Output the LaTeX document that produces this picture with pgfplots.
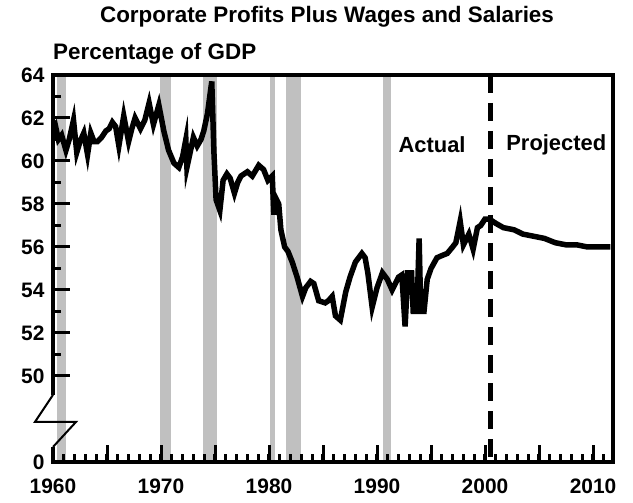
\documentclass[border=0pt]{standalone}
\usepackage{pgfplots}
\pgfplotsset{compat=1.18}
\usepackage{fontspec}
\setmainfont{Liberation Sans}
\definecolor{recgray}{HTML}{C0C0C0}

\begin{document}
\begin{tikzpicture}
\begin{axis}[
  at={(0,0)}, anchor=south west,
  scale only axis, width=560bp, height=387bp,
  xmin=1960, xmax=2011.85, ymin=46, ymax=64,
  axis on top,
  axis line style={line width=4bp, line join=miter},
  xtick={1960,1965,...,2010},
  xticklabels={1960,,1970,,1980,,1990,,2000,,2010},
  minor xtick={1961,...,2011},
  ytick={46,50,52,...,64},
  yticklabels={0,50,52,54,56,58,60,62,64},
  minor ytick={51,53,...,63},
  tick align=inside, xtick pos=left, ytick pos=left,
  major tick length=17bp, minor tick length=8bp,
  major tick style={draw=black, line width=3bp},
  minor tick style={draw=black, line width=3bp},
  ticklabel style={font=\bfseries\fontsize{21}{21}\selectfont},
  /pgf/number format/assume math mode=true,
  xticklabel style={yshift=-13bp},
  yticklabel style={xshift=-5bp},
]
% recessions
\addplot[fill=recgray, draw=none] coordinates {(1960.33,46)(1960.33,64)(1961.2,64)(1961.2,46)};
\addplot[fill=recgray, draw=none] coordinates {(1969.95,46)(1969.95,64)(1970.9,64)(1970.9,46)};
\addplot[fill=recgray, draw=none] coordinates {(1973.87,46)(1973.87,64)(1975.2,64)(1975.2,46)};
\addplot[fill=recgray, draw=none] coordinates {(1980.07,46)(1980.07,64)(1980.6,64)(1980.6,46)};
\addplot[fill=recgray, draw=none] coordinates {(1981.6,46)(1981.6,64)(1982.98,64)(1982.98,46)};
\addplot[fill=recgray, draw=none] coordinates {(1990.57,46)(1990.57,64)(1991.25,64)(1991.25,46)};
% actual + projected
\addplot[black, line width=5.5bp, line join=miter, miter limit=12] coordinates {
(1960.0,61.6)(1960.2,61.7)(1960.5,61.0)(1960.8,61.2)(1961.2,60.5)(1961.5,61.0)
(1961.9,61.9)(1962.2,60.4)(1962.5,60.9)(1962.85,61.3)(1963.2,60.3)(1963.5,61.3)
(1963.8,60.9)(1964.1,60.9)(1964.5,61.1)(1964.9,61.4)(1965.2,61.5)(1965.5,61.8)
(1965.8,61.6)(1966.1,60.7)(1966.55,62.1)(1967.0,60.9)(1967.3,61.5)(1967.6,62.0)
(1968.1,61.5)(1968.5,61.9)(1968.9,62.7)(1969.3,61.7)(1969.8,62.6)(1970.26,61.4)
(1970.7,60.5)(1971.2,59.9)(1971.65,59.7)(1972.0,60.2)(1972.3,61.0)(1972.4,59.7)
(1972.7,60.4)(1973.0,61.1)(1973.35,60.7)(1973.7,61.0)(1973.96,61.4)(1974.3,62.2)
(1974.7,63.7)(1974.9,60.4)(1975.1,58.2)(1975.45,57.7)(1975.75,59.1)(1976.1,59.4)
(1976.4,59.2)(1976.8,58.5)(1977.1,59.0)(1977.4,59.3)(1978.0,59.5)(1978.45,59.3)
(1979.05,59.8)(1979.5,59.6)(1979.9,59.1)(1980.3,59.3)(1980.45,57.5)(1980.6,58.3)
(1980.9,58.0)(1981.1,56.8)(1981.45,56.0)(1981.75,55.8)(1982.15,55.3)(1982.6,54.6)
(1983.1,53.7)(1983.4,54.1)(1983.85,54.4)(1984.15,54.3)(1984.6,53.5)(1985.2,53.4)
(1985.5,53.5)(1985.85,53.7)(1986.15,52.8)(1986.6,52.6)(1987.1,53.9)(1987.5,54.6)
(1988.0,55.3)(1988.6,55.7)(1988.9,55.5)(1989.15,54.8)(1989.55,53.2)(1990.0,54.1)
(1990.5,54.8)(1990.95,54.5)(1991.4,54.0)(1992.0,54.6)(1992.3,54.7)(1992.6,52.3)
(1992.85,54.8)(1993.2,54.8)(1993.35,53.0)(1993.7,53.0)(1993.9,56.4)(1994.05,53.0)
(1994.35,53.0)(1994.65,54.5)(1995.0,55.0)(1995.55,55.5)(1996.0,55.6)(1996.5,55.7)
(1997.0,56.0)(1997.3,56.2)(1997.7,57.2)(1998.0,56.1)(1998.5,56.6)(1998.9,55.9)
(1999.3,56.9)(1999.6,57.0)(2000.0,57.3)(2000.4,57.3)
(2001.0,57.1)(2001.7,56.9)(2002.7,56.8)(2003.5,56.6)(2004.5,56.5)(2005.5,56.4)
(2006.5,56.2)(2007.5,56.1)(2008.5,56.1)(2009.5,56.0)(2010.5,56.0)(2011.6,56.0)
};
% actual / projected divider
\addplot[black, line width=5bp, dash pattern=on 18bp off 10bp] coordinates {(2000.5,64)(2000.5,46)};
\node[font=\bfseries\fontsize{22}{22}\selectfont] at (axis cs:1995.1,60.74) {Actual};
\node[font=\bfseries\fontsize{22}{22}\selectfont] at (axis cs:2006.6,60.74) {Projected};
\coordinate (brktop) at (axis cs:1960,49.12);
\coordinate (brkbot) at (axis cs:1960,46.7);
\coordinate (t50) at (axis cs:1960,50);
\coordinate (t51) at (axis cs:1960,51);
\coordinate (t52) at (axis cs:1960,52);
\coordinate (t53) at (axis cs:1960,53);
\coordinate (t54) at (axis cs:1960,54);
\coordinate (t55) at (axis cs:1960,55);
\coordinate (t56) at (axis cs:1960,56);
\coordinate (t57) at (axis cs:1960,57);
\coordinate (t58) at (axis cs:1960,58);
\coordinate (t59) at (axis cs:1960,59);
\coordinate (t60) at (axis cs:1960,60);
\coordinate (t61) at (axis cs:1960,61);
\coordinate (t62) at (axis cs:1960,62);
\coordinate (t63) at (axis cs:1960,63);
\end{axis}
% y ticks, pointing inward from the left spine (as filled bars)
\foreach \v in {50,52,54,56,58,60,62} {
  \fill[black] ([yshift=-1.5bp]t\v) rectangle ([xshift=17bp,yshift=1.5bp]t\v);
}
\foreach \v in {51,53,55,57,59,61,63} {
  \fill[black] ([yshift=-1.5bp]t\v) rectangle ([xshift=8bp,yshift=1.5bp]t\v);
}
% axis break on the left spine
\fill[white] ([xshift=-4bp]brkbot) rectangle ([xshift=4bp]brktop);
\draw[line width=2bp] (brktop) -- ++(-18bp,-27bp) -- ++(41bp,0bp) -- (brkbot);
\node[font=\bfseries\fontsize{22.5}{22.5}\selectfont] at (274bp,445bp) {Corporate Profits Plus Wages and Salaries};
\node[font=\bfseries\fontsize{22.5}{22.5}\selectfont, anchor=west, inner sep=0pt] at (0bp,408bp) {Percentage of GDP};
\path (-53bp,-41bp) rectangle (580bp,462bp);
\end{tikzpicture}
\end{document}
